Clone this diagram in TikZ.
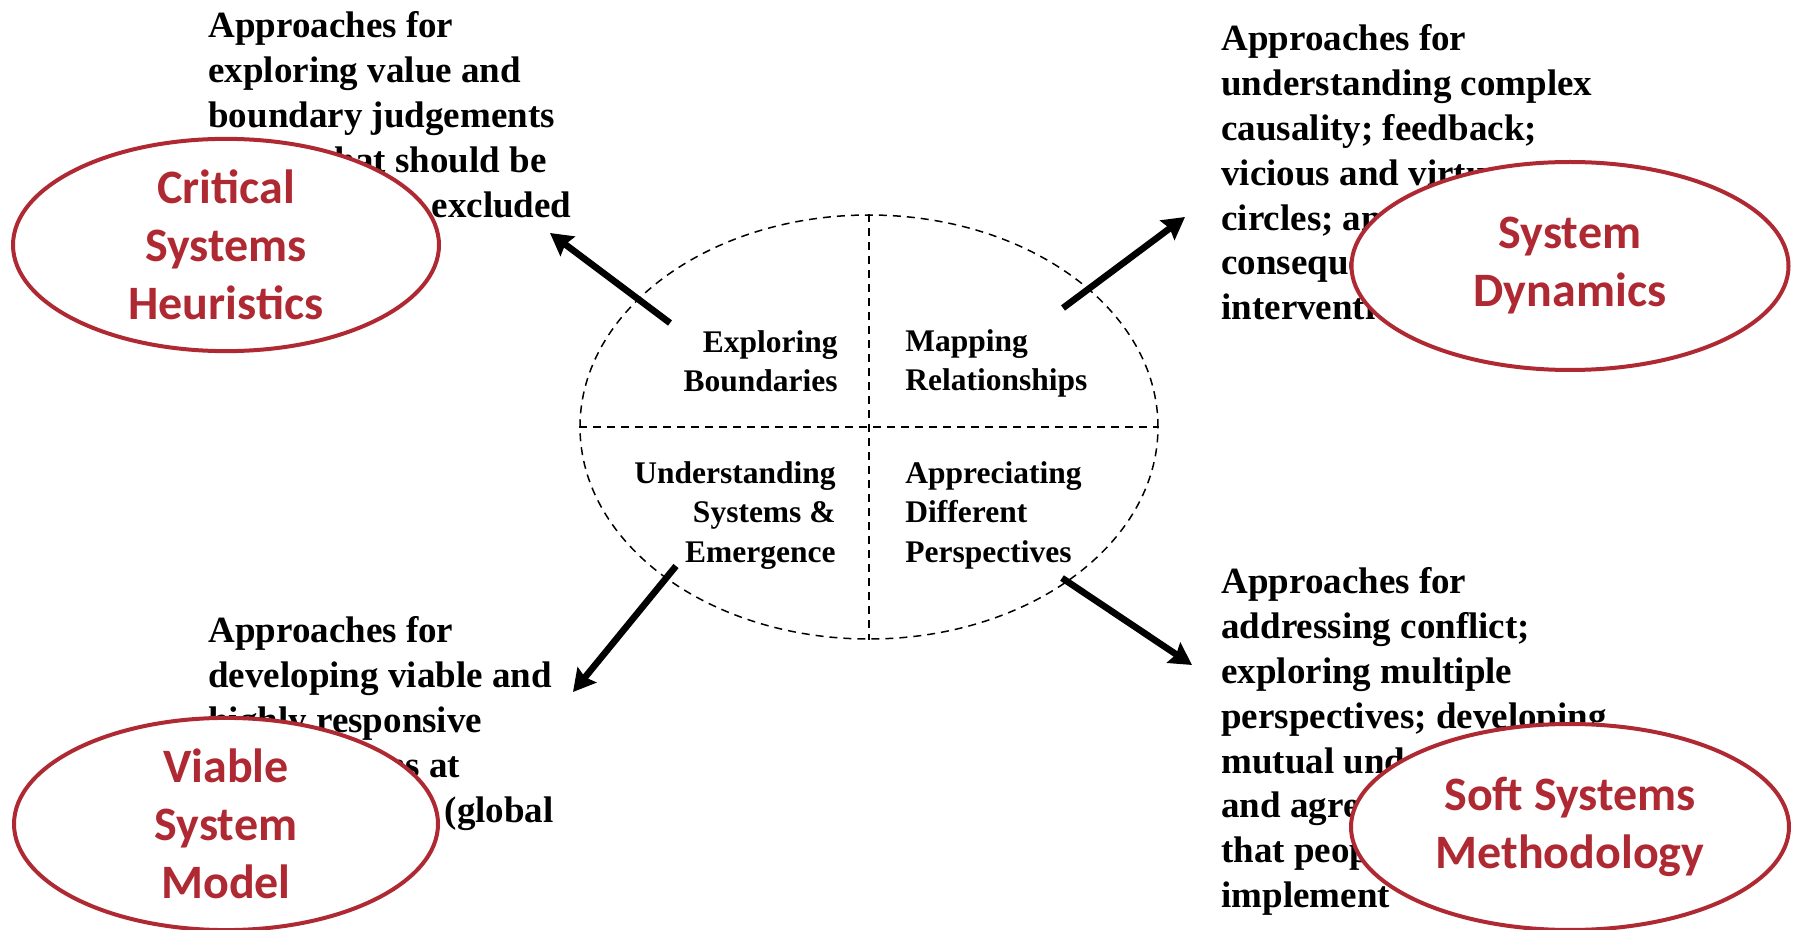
\documentclass[tikz,border=0pt]{standalone}
\usepackage{fontspec}
\setmainfont{Liberation Serif}
\newfontfamily\calibrifont{Carlito}
\usepackage{xcolor}
\usepackage{tikz}
\usetikzlibrary{arrows.meta,shapes.geometric}
\definecolor{methodred}{RGB}{175,41,51}

\begin{document}
\begin{tikzpicture}[x=0.5pt,y=-0.5pt,
    outertext/.style={anchor=north west,inner sep=0pt,align=left,
      font=\bfseries\fontsize{18.5}{22.4}\selectfont},
    quadtext/.style={inner sep=0pt,font=\bfseries\fontsize{15.75}{19.75}\selectfont},
    method/.style={ellipse,draw=methodred,line width=2pt,fill=white,inner sep=0pt,
      text=methodred,align=center,font=\calibrifont\bfseries\fontsize{24}{29}\selectfont},
    divider/.style={line width=0.85pt,dash pattern=on 4pt off 3pt},
    pointer/.style={line width=3.3pt,-{Stealth[length=11pt,width=12pt,inset=1.5pt]}}]

			\useasboundingbox (0,0) rectangle (1796,930);

			% descriptions
			\node[outertext] (csh-text) at (208,11.4) {Approaches for\\exploring value and\\boundary judgements\\about what should be\\considered or excluded};
			\node[outertext] (sd-text) at (1221,24.4) {Approaches for\\understanding complex\\causality; feedback;\\vicious and virtuous\\circles; and the\\consequences of\\interventions};
			\node[outertext] (vsm-text) at (208,616.4) {Approaches for\\developing viable and\\highly responsive\\organisations at\\multiple levels (global};
			\node[outertext] (ssm-text) at (1221,567.4) {Approaches for\\addressing conflict;\\exploring multiple\\perspectives; developing\\mutual understanding\\and agreements\\that people can\\implement};

			% methods
			\node[method,minimum width=213pt,minimum height=106pt] (csh) at (226,245) {Critical\\Systems\\Heuristics};
			\node[method,minimum width=218.5pt,minimum height=104pt] (sd) at (1570,266) {System\\Dynamics};
			\node[method,minimum width=212pt,minimum height=103pt] (vsm) at (226,824) {Viable\\System\\Model};
			\node[method,minimum width=219pt,minimum height=103pt] (ssm) at (1570,827) {Soft Systems\\Methodology};

			% centre ellipse
			\node[ellipse,draw,line width=0.75pt,dash pattern=on 4pt off 3pt,
			  minimum width=289pt,minimum height=212pt] (core) at (869,427) {};
			\draw[divider] (core.north) -- (core.south);
			\draw[divider] (core.west) -- (core.east);

			% quadrants
			\node[quadtext,anchor=north east,align=right] (explore) at (838,330) {Exploring\\Boundaries};
			\node[quadtext,anchor=north west,align=left] (mapping) at (905,329) {Mapping\\Relationships};
			\node[quadtext,anchor=north east,align=right] (understand) at (836,461) {Understanding\\Systems \&\\Emergence};
			\node[quadtext,anchor=north west,align=left] (appreciate) at (905,461) {Appreciating\\Different\\Perspectives};

			% arrows
			\coordinate (csh-tail) at (670,323);
			\coordinate (csh-tip) at (550,233);
			\coordinate (sd-tail) at (1063,308);
			\coordinate (sd-tip) at (1185,217);
			\coordinate (vsm-tail) at (676,566);
			\coordinate (vsm-tip) at (573,692);
			\coordinate (ssm-tail) at (1062,578);
			\coordinate (ssm-tip) at (1192,665);
			\draw[pointer] (csh-tail) -- (csh-tip);
			\draw[pointer] (sd-tail) -- (sd-tip);
			\draw[pointer] (vsm-tail) -- (vsm-tip);
			\draw[pointer] (ssm-tail) -- (ssm-tip);
		\end{tikzpicture}
\end{document}
